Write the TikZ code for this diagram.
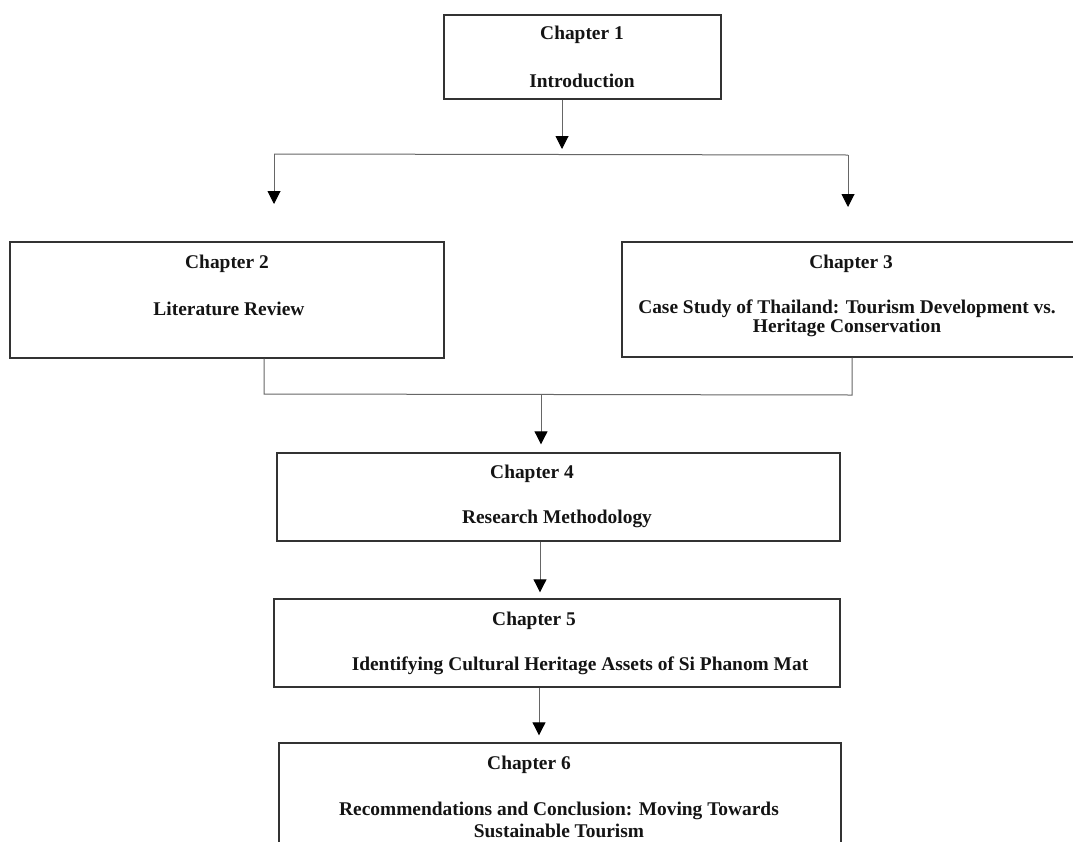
\documentclass[tikz,border=0pt]{standalone}
\usepackage{fontspec}
\setmainfont{Liberation Serif}
\usetikzlibrary{arrows.meta}
\begin{document}
\begin{tikzpicture}[x=1pt,y=-1pt,
  chbox/.style={draw=black!80, line width=1.4pt, inner sep=0pt, fill=none},
  chtext/.style={inner sep=0pt, text=black!92, align=center,
    font=\fontsize{19.4}{19.4}\selectfont\bfseries},
  link/.style={draw=black!60, line width=1pt},
  flow/.style={link, -{Triangle[width=13pt,length=13pt,black]}}]
\useasboundingbox (0,0) rectangle (1073,841);
\clip (0,0) rectangle (1073,841);
\fill[white] (0,0) rectangle (1073,841);

% chapter boxes
\node[chbox, minimum width=277pt, minimum height=84pt]  (box1) at (582.5,57)   {};
\node[chbox, minimum width=434pt, minimum height=116pt] (box2) at (227,300)    {};
\node[chbox, minimum width=452pt, minimum height=115pt] (box3) at (848,299.5)  {};
\node[chbox, minimum width=563pt, minimum height=88pt]  (box4) at (558.5,497)  {};
\node[chbox, minimum width=566pt, minimum height=88pt]  (box5) at (557,643)    {};
\node[chbox, minimum width=562pt, minimum height=137pt] (box6) at (560,811.5)  {};

% chapter titles
\node[chtext] (c1a) at (582,35) {Chapter 1};
\node[chtext] (c1b) at (582,81) {Introduction};
\node[chtext] (c2a) at (227,264) {Chapter 2};
\node[chtext] (c2b) at (229,309) {Literature Review};
\node[chtext] (c3a) at (851,264) {Chapter 3};
\node[chtext, font=\fontsize{19.4}{19}\selectfont\bfseries] (c3b) at (847,318)
  {Case Study of Thailand: Tourism Development vs.\\Heritage Conservation};
\node[chtext] (c4a) at (532,474) {Chapter 4};
\node[chtext] (c4b) at (557,519) {Research Methodology};
\node[chtext] (c5a) at (534,621) {Chapter 5};
\node[chtext] (c5b) at (580,666) {Identifying Cultural Heritage Assets of Si Phanom Mat};
\node[chtext] (c6a) at (529,765) {Chapter 6};
\node[chtext, font=\fontsize{19.4}{22}\selectfont\bfseries] (c6b) at (559,820)
  {Recommendations and Conclusion: Moving Towards\\Sustainable Tourism};

% branching points
\coordinate (split) at (562,149);
\coordinate (splitL) at (274,154);
\coordinate (splitR) at (848,155);
\coordinate (tip2) at (274,204);
\coordinate (tip3) at (848,207);
\coordinate (joinL) at (264,394);
\coordinate (joinR) at (852,395);
\coordinate (join) at (541,394.5);

% chapter 1 to chapters 2 and 3
\draw[flow] (box1.south -| split) -- (split);
\draw[link] (splitL) -- (splitR);
\draw[flow] (splitL) -- (tip2);
\draw[flow] (splitR) -- (tip3);

% chapters 2 and 3 merge into chapter 4
\draw[link] (box2.south -| joinL) -- (joinL) -- (joinR) -- (box3.south -| joinR);
\draw[flow] (join) -- ([yshift=8pt]box4.north -| join);

% chapter 4 to 5 to 6
\draw[flow] (box4.south -| 540,0) -- ([yshift=6pt]box5.north -| 540,0);
\draw[flow] (box5.south -| 539,0) -- ([yshift=7pt]box6.north -| 539,0);
\end{tikzpicture}
\end{document}
